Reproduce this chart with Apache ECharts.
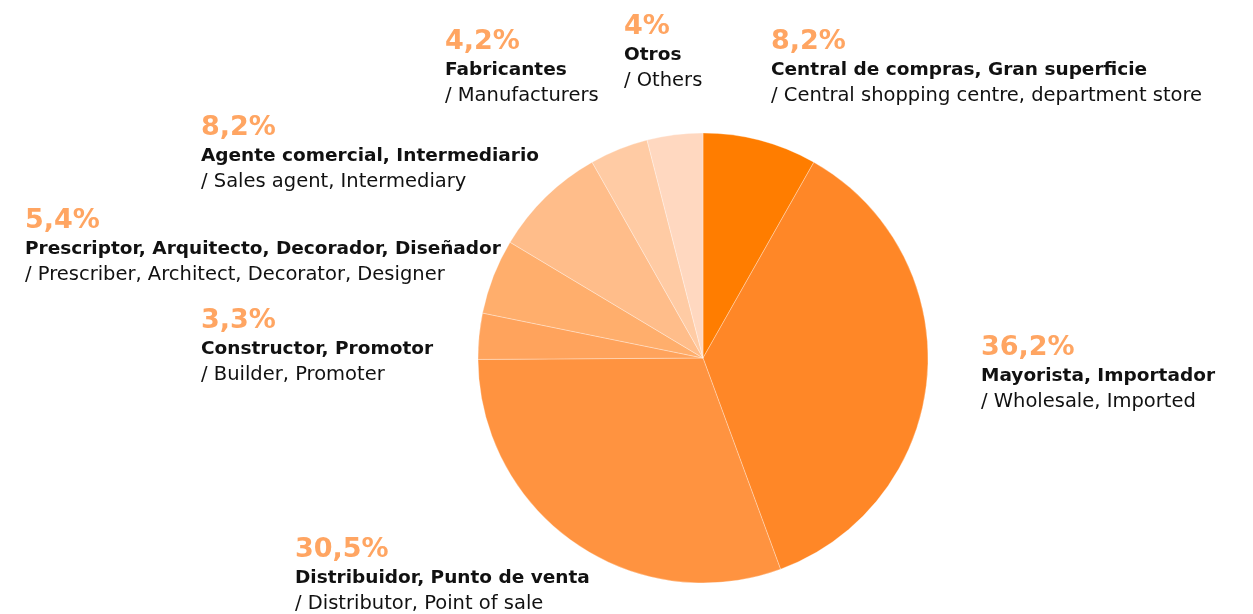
<!DOCTYPE html>
<html>
<head>
<meta charset="utf-8">
<script src="https://cdn.jsdelivr.net/npm/echarts@6/dist/echarts.min.js"></script>
<style>
html, body { margin:0; padding:0; background:#fff; }
#chart { width:1253px; height:614px; }
</style>
</head>
<body>
<div id="chart"></div>
<script>
var namesEs = ['Central de compras, Gran superficie','Mayorista, Importador','Distribuidor, Punto de venta','Constructor, Promotor','Prescriptor, Arquitecto, Decorador, Diseñador','Agente comercial, Intermediario','Fabricantes','Otros'];
var namesEn = ['Central shopping centre, department store','Wholesale, Imported','Distributor, Point of sale','Builder, Promoter','Prescriber, Architect, Decorator, Designer','Sales agent, Intermediary','Manufacturers','Others'];
var values = [8.2, 36.2, 30.5, 3.3, 5.4, 8.2, 4.2, 4];

var sliceColors = ['#FF7D00','#FF8727','#FF9340','#FFA35C','#FFAE6C','#FFBD8A','#FFCBA4','#FFD8C0'];
// label top-left corners
var labelPos = [[771,27],[981,333],[295,535],[201,306],[25,206],[201,113],[445,27],[624,12]];

var font = '"DejaVu Sans", sans-serif';

var pieData = values.map(function (v, i) {
    return {value: v, name: namesEs[i], itemStyle: {color: sliceColors[i]}};
});

var option = {
    animation: false,
    series : [{
        type:'pie',
        center: [703, 358],
        radius : 225,
        startAngle: 90,
        clockwise: true,
        itemStyle: { borderColor:'rgba(255,255,255,0.5)', borderWidth:0.6 },
        label: {
            show: true,
            position: 'outside',
            align: 'left',
            verticalAlign: 'top',
            overflow: 'none',
            fontFamily: font,
            formatter: function (p) {
                var i = p.dataIndex;
                return '{pct|' + String(values[i]).replace('.', ',') + '%}\n{es|' + namesEs[i] + '}\n{en|/ ' + namesEn[i] + '}';
            },
            rich: {
                pct: { fontFamily: font, fontSize: 27, fontWeight: 'bold', color:'#FFA562', lineHeight: 30 },
                es: { fontFamily: font, fontSize: 18.5, fontWeight: 'bold', color:'#111111', lineHeight: 26 },
                en: { fontFamily: font, fontSize: 19.5, color:'#111111', lineHeight: 26 }
            }
        },
        labelLine: { show:false },
        labelLayout: function (params) {
            var pos = labelPos[params.dataIndex];
            return { x: pos[0], y: pos[1], align:'left', verticalAlign:'top' };
        },
        data: pieData
    }]
};
var chart = echarts.init(document.getElementById('chart'));
chart.setOption(option);
</script>
</body>
</html>
